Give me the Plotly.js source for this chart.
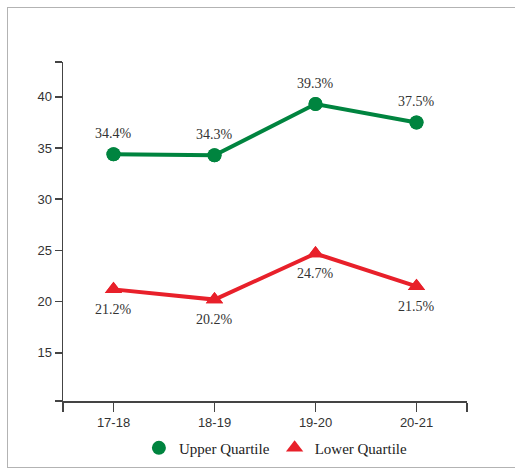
<!DOCTYPE html>
<html><head><meta charset="utf-8">
<script src="https://cdn.plot.ly/plotly-3.0.1.min.js"></script>
<style>
html,body{margin:0;padding:0;background:#fff;overflow:hidden}
#frame{position:absolute;left:7px;top:7px;width:530px;height:459px;border:1.5px solid #b3b3b3;pointer-events:none;z-index:10}
#chart{width:515px;height:471px}
</style></head>
<body>
<div id="chart"></div><div id="frame"></div>
<script>
const categories = ['17-18','18-19','19-20','20-21'];
const upperQuartile = [34.4, 34.3, 39.3, 37.5];
const lowerQuartile = [21.2, 20.2, 24.7, 21.5];
const yTicks = [15, 20, 25, 30, 35, 40];
const yRange = [10.3, 43.4];

const xIdx = categories.map((c,i)=>i);
const serif = 'Liberation Serif, Times New Roman, serif';
const sans = 'Liberation Sans, Arial, sans-serif';
const green = '#00843F', red = '#E8202A';

const traces = [
  {x: xIdx, y: upperQuartile, name: 'Upper Quartile', type: 'scatter', mode: 'lines+markers',
   line: {color: green, width: 4}, marker: {symbol: 'circle', size: 14, color: green},
   showlegend: false, cliponaxis: false},
  {x: xIdx, y: lowerQuartile, name: 'Lower Quartile', type: 'scatter', mode: 'lines+markers',
   line: {color: red, width: 4}, marker: {symbol: 'triangle-up', size: 15, color: red},
   showlegend: false, cliponaxis: false},
  {x: xIdx, y: upperQuartile, name: 'Upper Quartile', type: 'scatter', mode: 'markers',
   marker: {symbol: 'circle', size: 14, color: green}, cliponaxis: false},
  {x: xIdx, y: lowerQuartile, name: 'Lower Quartile', type: 'scatter', mode: 'markers',
   marker: {symbol: 'triangle-up', size: 15, color: red}, cliponaxis: false}
];

const labelFont = {family: serif, size: 14, color: '#333'};
const annotations = [];
xIdx.forEach((x,i)=>{
  annotations.push({x: x, y: upperQuartile[i], text: upperQuartile[i].toFixed(1)+'%', showarrow: false,
                    yshift: 20.5, font: labelFont});
  annotations.push({x: x, y: lowerQuartile[i], text: lowerQuartile[i].toFixed(1)+'%', showarrow: false,
                    yshift: -20, font: labelFont});
});

const layout = {
  width: 515, height: 471,
  margin: {l: 63, r: 48, t: 62, b: 70, autoexpand: false},
  paper_bgcolor: '#fff', plot_bgcolor: '#fff',
  showlegend: true,
  annotations: annotations,
  legend: {orientation: 'h', x: 0.527, xanchor: 'center', y: -0.139, yanchor: 'middle',
           font: {family: serif, size: 15, color: '#222'}, itemclick: false},
  xaxis: {range: [-0.5, categories.length - 0.5], showgrid: false, zeroline: false,
          showline: true, linecolor: '#444', linewidth: 1.5,
          tickmode: 'array', tickvals: [-0.5].concat(xIdx, [categories.length - 0.5]),
          ticktext: [''].concat(categories, ['']),
          ticks: 'outside', ticklen: 9, tickwidth: 1.5, tickcolor: '#444',
          tickfont: {family: sans, size: 13, color: '#333'}},
  yaxis: {range: yRange, showgrid: false, zeroline: false,
          showline: true, linecolor: '#444', linewidth: 1.5,
          tickmode: 'array', tickvals: [yRange[0]].concat(yTicks, [yRange[1]]),
          ticktext: [''].concat(yTicks.map(String), ['']),
          ticks: 'outside', ticklen: 7, tickwidth: 1.5, tickcolor: '#444',
          tickfont: {family: sans, size: 13, color: '#333'}}
};

Plotly.newPlot('chart', traces, layout, {displayModeBar: false, staticPlot: true});
</script>
</body></html>
